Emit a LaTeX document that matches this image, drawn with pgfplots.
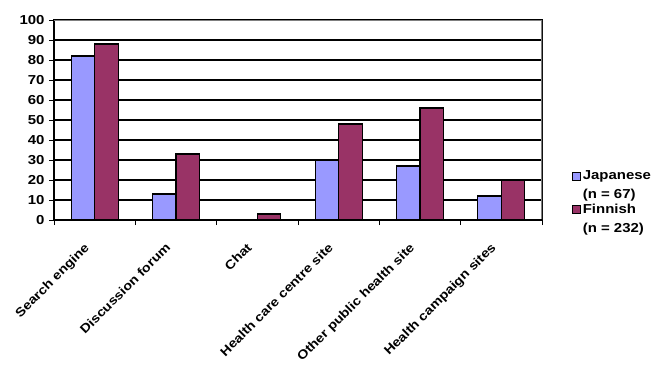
\documentclass[border=0pt]{standalone}
\usepackage{pgfplots}
\pgfplotsset{compat=1.18}
\usepackage{fontspec}
\setmainfont{Liberation Sans}[FakeStretch=1.15]
\definecolor{jap}{HTML}{9999FF}
\definecolor{fin}{HTML}{993366}
\begin{document}
\begin{tikzpicture}
\begin{axis}[
  name=a,
  scale only axis,
  width=488pt, height=200pt,
  ybar=0pt, bar width=23.5pt,
  xmin=-0.5, xmax=5.5, ymin=0, ymax=100,
  xtick={0,...,5},
  xticklabels={Search engine, Discussion forum, Chat, Health care centre site, Other public health site, Health campaign sites},
  minor xtick={-0.5,0.5,...,5.5},
  every major x tick/.append style={draw=none},
  minor tick length=5pt,
  major tick length=5pt,
  ytick={0,10,...,100},
  tick align=outside, tick pos=left,
  ymajorgrids, major grid style={black, line width=1.2pt},
  axis line style={black, line width=1.2pt},
  every tick/.style={black, line width=1pt},
  /pgf/number format/assume math mode=true,
  ticklabel style={font=\bfseries\fontsize{13}{15}\selectfont},
  yticklabel style={xshift=-1pt},
  xticklabel style={rotate=45, anchor=north east, yshift=-4pt, xshift=-20pt, inner sep=0pt, font=\bfseries\fontsize{12.5}{15}\selectfont},
  legend style={at={(1.055,0.27)}, anchor=north west, draw=none, fill=none,
    font=\bfseries\fontsize{13}{19}\selectfont,
    cells={anchor=west, align=left}, row sep=0pt},
  legend image code/.code={\draw[#1, draw=black, line width=0.8pt] (0pt,5pt) rectangle (8pt,13pt);},
]
\addplot[fill=jap, draw=black, line width=1.2pt] coordinates {(0,82) (1,13) (2,0) (3,30) (4,27) (5,12)};
\addplot[fill=fin, draw=black, line width=1.2pt] coordinates {(0,88) (1,33) (2,3) (3,48) (4,56) (5,20)};
\legend{{Japanese\\(n = 67)}, {Finnish\\(n = 232)}}
\draw[gray, line width=1.2pt] (rel axis cs:0,1) -- (rel axis cs:1,1) -- (rel axis cs:1,0);
\draw[black, line width=1.2pt] (rel axis cs:0,0) -- (rel axis cs:1,0);
\end{axis}
\pgfresetboundingbox
\path ([shift={(-54pt,-153pt)}]a.south west) rectangle ([shift={(128pt,20pt)}]a.north east);
\end{tikzpicture}
\end{document}
